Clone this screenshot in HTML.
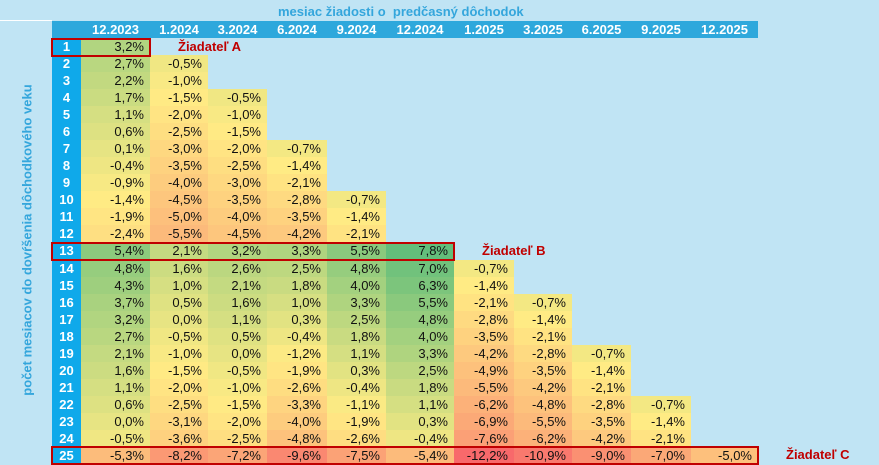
<!DOCTYPE html>
<html><head><meta charset="utf-8">
<style>
body{margin:0;width:879px;height:465px;background:#c0e4f4;position:relative;overflow:hidden;font-family:"Liberation Sans",sans-serif;}
.c{position:absolute;height:17px;line-height:17px;font-size:13px;color:#111;text-align:right;box-sizing:border-box;padding-right:6px;font-family:"Liberation Sans Narrow","Liberation Sans",sans-serif;}
.h{position:absolute;top:21px;height:17px;line-height:17px;color:#fff;font-weight:bold;font-size:13px;text-align:center;}
.n{position:absolute;left:52px;width:29px;height:17px;line-height:17px;color:#fff;font-weight:bold;font-size:13px;text-align:center;}
.box{position:absolute;border:2px solid #c00000;box-sizing:border-box;left:51px;height:19px;}
.lab{position:absolute;color:#c00000;font-weight:bold;font-size:13px;}
</style></head><body>
<div style="position:absolute;left:0;top:20px;width:52px;height:1px;background:#fff"></div>
<div style="position:absolute;left:52px;top:21px;width:706px;height:17px;background:#2ea8dc"></div>
<div style="position:absolute;left:52px;top:38px;width:29px;height:426px;background:#0fa9ea"></div>
<div style="position:absolute;left:278px;top:4px;font-size:13px;font-weight:bold;color:#34a6dc;">mesiac žiadosti o&nbsp; predčasný dôchodok</div>
<div style="position:absolute;left:27px;top:240px;transform:translate(-50%,-50%) rotate(-90deg);white-space:nowrap;font-size:13px;font-weight:bold;color:#34a6dc;">počet mesiacov do dovŕšenia dôchodkového veku</div>
<div id="g"></div>
<div class="box" style="top:38px;width:100px"></div>
<div class="box" style="top:242px;width:404px"></div>
<div class="box" style="top:446px;width:708px"></div>
<div class="lab" style="left:178px;top:39px">Žiadateľ A</div>
<div class="lab" style="left:482px;top:243px">Žiadateľ B</div>
<div class="lab" style="left:786px;top:447px">Žiadateľ C</div>
<script>
var xs=[81,150,208,267,327,386,454,514,572,631,691,758];
var hd=["12.2023","1.2024","3.2024","6.2024","9.2024","12.2024","1.2025","3.2025","6.2025","9.2025","12.2025"];
var D=[[3.2],[2.7,-0.5],[2.2,-1.0],[1.7,-1.5,-0.5],[1.1,-2.0,-1.0],[0.6,-2.5,-1.5],[0.1,-3.0,-2.0,-0.7],[-0.4,-3.5,-2.5,-1.4],[-0.9,-4.0,-3.0,-2.1],[-1.4,-4.5,-3.5,-2.8,-0.7],[-1.9,-5.0,-4.0,-3.5,-1.4],[-2.4,-5.5,-4.5,-4.2,-2.1],
[5.4,2.1,3.2,3.3,5.5,7.8],[4.8,1.6,2.6,2.5,4.8,7.0,-0.7],[4.3,1.0,2.1,1.8,4.0,6.3,-1.4],[3.7,0.5,1.6,1.0,3.3,5.5,-2.1,-0.7],[3.2,0.0,1.1,0.3,2.5,4.8,-2.8,-1.4],[2.7,-0.5,0.5,-0.4,1.8,4.0,-3.5,-2.1],
[2.1,-1.0,0.0,-1.2,1.1,3.3,-4.2,-2.8,-0.7],[1.6,-1.5,-0.5,-1.9,0.3,2.5,-4.9,-3.5,-1.4],[1.1,-2.0,-1.0,-2.6,-0.4,1.8,-5.5,-4.2,-2.1],
[0.6,-2.5,-1.5,-3.3,-1.1,1.1,-6.2,-4.8,-2.8,-0.7],[0.0,-3.1,-2.0,-4.0,-1.9,0.3,-6.9,-5.5,-3.5,-1.4],[-0.5,-3.6,-2.5,-4.8,-2.6,-0.4,-7.6,-6.2,-4.2,-2.1],
[-5.3,-8.2,-7.2,-9.6,-7.5,-5.4,-12.2,-10.9,-9.0,-7.0,-5.0]];
function col(v){var R=[248,105,107],Y=[255,235,132],G=[99,190,123],a,b,t,mid=-1.4;
if(v<mid){a=R;b=Y;t=(v+12.2)/(mid+12.2);}else{a=Y;b=G;t=(v-mid)/(7.8-mid);}
return "rgb("+a.map(function(x,i){return Math.round(x+(b[i]-x)*t)}).join(",")+")";}
var h="";
for(var i=0;i<11;i++)h+='<div class="h" style="left:'+xs[i]+'px;width:'+(xs[i+1]-xs[i])+'px">'+hd[i]+'</div>';
for(var r=0;r<25;r++){var y=38+r*17.04;
h+='<div class="n" style="top:'+y+'px">'+(r+1)+'</div>';
for(var c=0;c<D[r].length;c++){var v=D[r][c];
h+='<div class="c" style="left:'+xs[c]+'px;width:'+(xs[c+1]-xs[c])+'px;top:'+y+'px;background:'+col(v)+'">'+v.toFixed(1).replace(".",",")+'%</div>';}}
document.getElementById("g").innerHTML=h;
</script>
</body></html>
